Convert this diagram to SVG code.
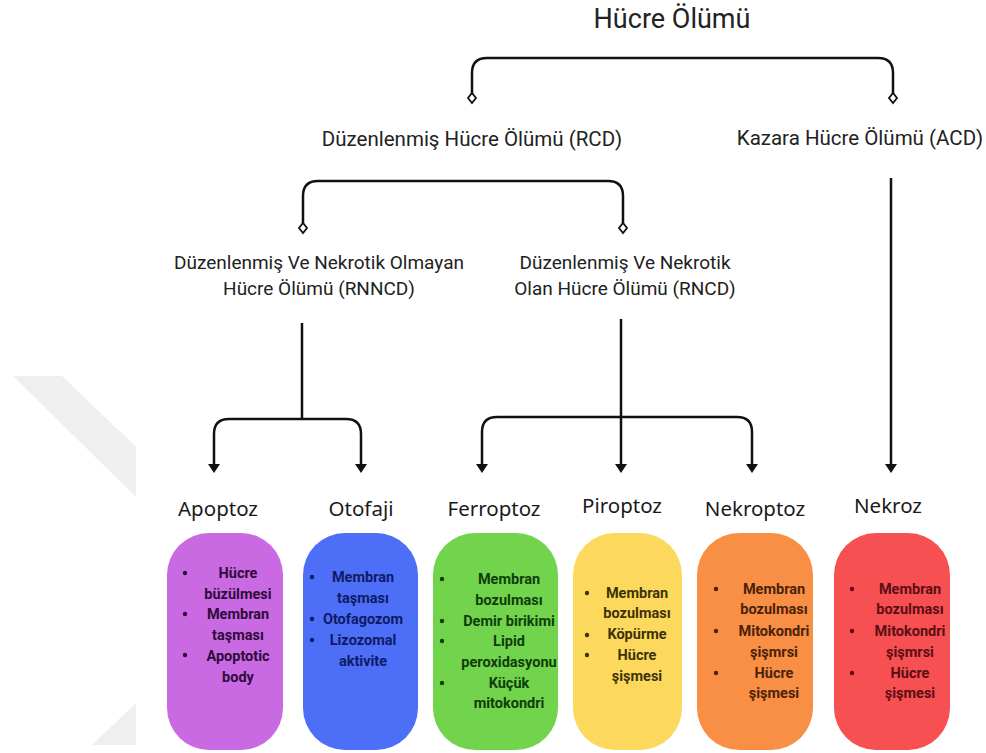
<svg xmlns="http://www.w3.org/2000/svg" width="986" height="753" viewBox="0 0 986 753">
<style>
.head{font-family:Roboto,"Liberation Sans",sans-serif;fill:#222;text-anchor:middle}
.lbl{font-family:"Noto Sans","Open Sans",sans-serif;font-size:20.5px;fill:#1a1a1a;text-anchor:middle}
.item{font-family:Roboto,"Liberation Sans",sans-serif;font-size:14.5px;font-weight:700;text-anchor:middle}
.conn{fill:none;stroke:#111;stroke-width:2.5}
.dia{fill:#fff;stroke:#111;stroke-width:1.8}
.ah{fill:#111}
</style>
<defs>
<path id="head" d="M-6,-9 L6,-9 L0,0 Z"/>
</defs>
<rect width="986" height="753" fill="#fff"/>
<g id="watermark" fill="#efefef">
<polygon points="13,376 62,376 136,447 136,497"/>
<polygon points="136,703 92,745 136,745"/>
</g>
<g id="connectors">
<path class="conn" d="M472,94 V73 Q472,58 487,58 H878 Q893,58 893,73 V94"/>
<path class="dia" d="M472,93 L476,98 L472,103 L468,98 Z"/>
<path class="dia" d="M893,93 L897,98 L893,103 L889,98 Z"/>
<path class="conn" d="M303,224 V196 Q303,181 318,181 H608 Q623,181 623,196 V224"/>
<path class="dia" d="M303,223 L307,228 L303,233 L299,228 Z"/>
<path class="dia" d="M623,223 L627,228 L623,233 L619,228 Z"/>
<path class="conn" d="M302,323 V419"/>
<path class="conn" d="M214,466 V434 Q214,419 229,419 H346 Q361,419 361,434 V466"/>
<path class="conn" d="M621,319 V466"/>
<path class="conn" d="M482,466 V432 Q482,417 497,417 H737 Q752,417 752,432 V466"/>
<path class="conn" d="M891,178 V466"/>
<use href="#head" class="ah" x="214" y="473"/>
<use href="#head" class="ah" x="361" y="473"/>
<use href="#head" class="ah" x="482" y="473"/>
<use href="#head" class="ah" x="621" y="473"/>
<use href="#head" class="ah" x="752" y="473"/>
<use href="#head" class="ah" x="891" y="473"/>
</g>
<g id="root"><text class="head" x="672" y="28" font-size="27">Hücre Ölümü</text></g>
<g id="rcd"><text class="head" x="472" y="146" font-size="20.5">Düzenlenmiş Hücre Ölümü (RCD)</text></g>
<g id="acd"><text class="head" x="860" y="145" font-size="20.5">Kazara Hücre Ölümü (ACD)</text></g>
<g id="rnncd"><text class="head" x="319" y="269" font-size="19">Düzenlenmiş Ve Nekrotik Olmayan</text><text class="head" x="319" y="295" font-size="19">Hücre Ölümü (RNNCD)</text></g>
<g id="rncd"><text class="head" x="625" y="269" font-size="19">Düzenlenmiş Ve Nekrotik</text><text class="head" x="625" y="295" font-size="19">Olan Hücre Ölümü (RNCD)</text></g>

<g id="apoptoz">
<text class="lbl" x="218" y="516">Apoptoz</text>
<rect x="167" y="533" width="116" height="217" rx="42" fill="#c96ae2"/>
<g fill="#2e0b3b">
<circle cx="185" cy="573" r="2.2"/><circle cx="185" cy="614" r="2.2"/><circle cx="185" cy="655" r="2.2"/>
<text class="item" x="238" y="578">Hücre</text><text class="item" x="238" y="599">büzülmesi</text><text class="item" x="238" y="619">Membran</text><text class="item" x="238" y="640">taşması</text><text class="item" x="238" y="661">Apoptotic</text><text class="item" x="238" y="682">body</text>
</g>
</g>
<g id="otofaji">
<text class="lbl" x="361" y="516">Otofaji</text>
<rect x="303" y="533" width="115" height="217" rx="42" fill="#4d6ef6"/>
<g fill="#0d1b66">
<circle cx="312" cy="577" r="2.2"/><circle cx="312" cy="619" r="2.2"/><circle cx="312" cy="640" r="2.2"/>
<text class="item" x="363" y="582">Membran</text><text class="item" x="363" y="603">taşması</text><text class="item" x="363" y="624">Otofagozom</text><text class="item" x="363" y="645">Lizozomal</text><text class="item" x="363" y="666">aktivite</text>
</g>
</g>
<g id="ferroptoz">
<text class="lbl" x="494" y="516">Ferroptoz</text>
<rect x="433" y="533" width="125" height="217" rx="42" fill="#71d44c"/>
<g fill="#0e3d0a">
<circle cx="442" cy="579" r="2.2"/><circle cx="442" cy="621" r="2.2"/><circle cx="442" cy="641" r="2.2"/><circle cx="442" cy="683" r="2.2"/>
<text class="item" x="509" y="584">Membran</text><text class="item" x="509" y="605">bozulması</text><text class="item" x="509" y="626">Demir birikimi</text><text class="item" x="509" y="646">Lipid</text><text class="item" x="509" y="667">peroxidasyonu</text><text class="item" x="509" y="688">Küçük</text><text class="item" x="509" y="708">mitokondri</text>
</g>
</g>
<g id="piroptoz">
<text class="lbl" x="622" y="513">Piroptoz</text>
<rect x="573" y="533" width="109" height="217" rx="42" fill="#fcd95c"/>
<g fill="#3d3207">
<circle cx="587" cy="593" r="2.2"/><circle cx="587" cy="635" r="2.2"/><circle cx="587" cy="655" r="2.2"/>
<text class="item" x="637" y="598">Membran</text><text class="item" x="637" y="618">bozulması</text><text class="item" x="637" y="639">Köpürme</text><text class="item" x="637" y="660">Hücre</text><text class="item" x="637" y="681">şişmesi</text>
</g>
</g>
<g id="nekroptoz">
<text class="lbl" x="755" y="516">Nekroptoz</text>
<rect x="697" y="533" width="116" height="217" rx="42" fill="#f98f44"/>
<g fill="#4a2208">
<circle cx="716" cy="589" r="2.2"/><circle cx="716" cy="631" r="2.2"/><circle cx="716" cy="673" r="2.2"/>
<text class="item" x="774" y="594">Membran</text><text class="item" x="774" y="614">bozulması</text><text class="item" x="774" y="636">Mitokondri</text><text class="item" x="774" y="657">şişmrsi</text><text class="item" x="774" y="678">Hücre</text><text class="item" x="774" y="698">şişmesi</text>
</g>
</g>
<g id="nekroz">
<text class="lbl" x="888" y="513">Nekroz</text>
<rect x="834" y="533" width="116" height="217" rx="42" fill="#f65052"/>
<g fill="#5a0e14">
<circle cx="852" cy="589" r="2.2"/><circle cx="852" cy="631" r="2.2"/><circle cx="852" cy="673" r="2.2"/>
<text class="item" x="910" y="594">Membran</text><text class="item" x="910" y="614">bozulması</text><text class="item" x="910" y="636">Mitokondri</text><text class="item" x="910" y="657">şişmrsi</text><text class="item" x="910" y="678">Hücre</text><text class="item" x="910" y="698">şişmesi</text>
</g>
</g>
</svg>
